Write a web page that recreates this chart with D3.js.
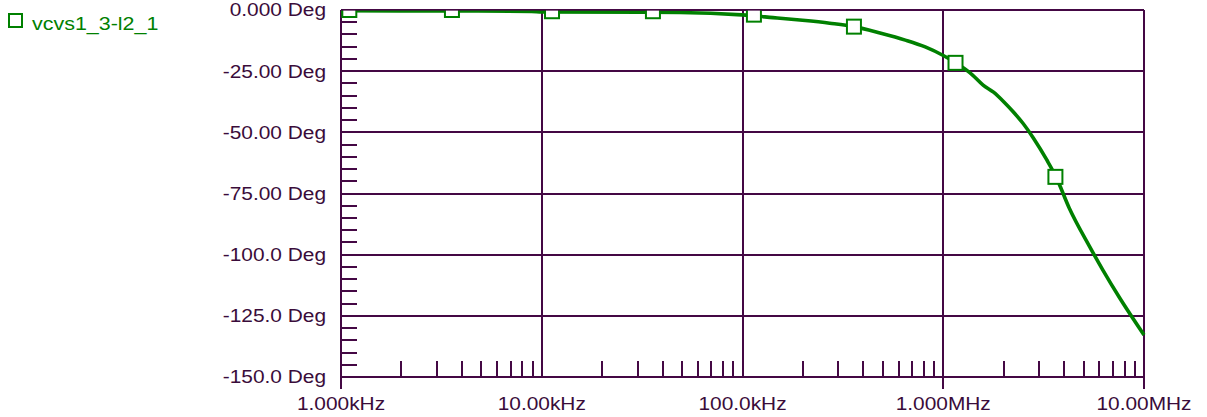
<!DOCTYPE html>
<html>
<head>
<meta charset="utf-8">
<script src="https://cdn.jsdelivr.net/npm/d3@7"></script>
<style>
  html, body { margin: 0; padding: 0; background: #ffffff; }
  svg { display: block; }
  text { font-family: "Liberation Sans", Arial, sans-serif; }
</style>
</head>
<body>
<svg id="chart" width="1207" height="417"></svg>
<script>
// Phase response of vcvs1_3-l2_1 (frequency in Hz, phase in degrees)
const seriesName = "vcvs1_3-l2_1";
const freqHz = [1000, 3540, 8900, 10000, 48800, 99300, 142000, 193000, 272000, 360000,
  484000, 647000, 813000, 1000000, 1160000, 1400000, 1580000, 1780000, 2000000, 2230000,
  2500000, 2810000, 3280000, 3640000, 4240000, 5360000, 6240000, 7570000, 10000000];
const phaseDeg = [-0.33, -0.4, -0.6, -0.8, -1.0, -2.0, -3.1, -4.1, -5.4, -6.8,
  -9.4, -12.3, -15.1, -18.6, -21.7, -26.6, -30.7, -33.6, -37.5, -41.6,
  -46.4, -52.3, -61.3, -68.1, -80.9, -96.7, -106.3, -117.7, -132.8];

// Marker symbols placed along the trace
const markerHz = [1100, 3570, 11250, 35800, 114000, 359000, 1151000, 3620000];
const markerDeg = [0.0, 0.0, -0.5, -0.5, -1.9, -6.8, -21.6, -68.2];

// Axis ticks and labels
const yTicks = [0, -25, -50, -75, -100, -125, -150];
const yTickLabels = ["0.000 Deg", "-25.00 Deg", "-50.00 Deg", "-75.00 Deg", "-100.0 Deg", "-125.0 Deg", "-150.0 Deg"];
const xTicks = [1e3, 1e4, 1e5, 1e6, 1e7];
const xTickLabels = ["1.000kHz", "10.00kHz", "100.0kHz", "1.000MHz", "10.00MHz"];

const axisColor = "#440844";
const textColor = "#3a0c3a";
const traceColor = "#008000";
const stretch = 1.16;

const plotLeft = 341, plotRight = 1144, plotTop = 10, plotBottom = 377;

const svg = d3.select("#chart");
const x = d3.scaleLog().domain([1e3, 1e7]).range([plotLeft, plotRight]);
const y = d3.scaleLinear().domain([-150, 0]).range([plotBottom, plotTop]);
// pixel-snapped positions for crisp 2px rules
const xs = d => Math.round(x(d));
const ys = d => Math.round(y(d));

// minor tick values
const yMinor = d3.range(-150, 0.01, 5).filter(v => v % 25 !== 0);
const xMinor = [];
for (let d = 1e3; d < 1e7; d *= 10) for (let k = 2; k <= 9; k++) xMinor.push(d * k);

const grid = svg.append("g");

// horizontal grid lines at the labelled phases
grid.selectAll(".hg").data(yTicks).join("line")
  .attr("x1", plotLeft).attr("x2", plotRight)
  .attr("y1", ys).attr("y2", ys)
  .attr("stroke", axisColor).attr("stroke-width", 2);

// vertical grid lines at each decade
grid.selectAll(".vg").data(xTicks).join("line")
  .attr("x1", xs).attr("x2", xs)
  .attr("y1", plotTop).attr("y2", (d, i) => (i === 0 || i >= 3) ? 389 : plotBottom)
  .attr("stroke", axisColor).attr("stroke-width", 2);

// minor ticks on the phase axis
grid.selectAll(".ym").data(yMinor).join("line")
  .attr("x1", plotLeft).attr("x2", plotLeft + 16)
  .attr("y1", ys).attr("y2", ys)
  .attr("stroke", axisColor).attr("stroke-width", 2);

// minor ticks on the frequency axis
grid.selectAll(".xm").data(xMinor).join("line")
  .attr("x1", xs).attr("x2", xs)
  .attr("y1", plotBottom).attr("y2", plotBottom - 16)
  .attr("stroke", axisColor).attr("stroke-width", 2);

// y labels
svg.append("g").selectAll("text").data(yTicks).join("text")
  .attr("transform", d => `translate(326,${y(d)}) scale(${stretch},1)`)
  .attr("dy", "0.36em")
  .attr("text-anchor", "end")
  .attr("font-size", 18)
  .attr("fill", textColor)
  .text((d, i) => yTickLabels[i]);

// x labels
svg.append("g").selectAll("text").data(xTicks).join("text")
  .attr("transform", d => `translate(${x(d)},410) scale(${stretch},1)`)
  .attr("text-anchor", "middle")
  .attr("font-size", 18)
  .attr("fill", textColor)
  .text((d, i) => xTickLabels[i]);

// plot area clip
svg.append("clipPath").attr("id", "plotClip")
  .append("rect").attr("x", plotLeft).attr("y", plotTop)
  .attr("width", plotRight - plotLeft + 2).attr("height", plotBottom - plotTop);

const plot = svg.append("g").attr("clip-path", "url(#plotClip)");
const pts = freqHz.map((f, i) => [f, phaseDeg[i]]);
const line = d3.line().x(d => x(d[0])).y(d => y(d[1])).curve(d3.curveMonotoneX);

plot.append("path").datum(pts)
  .attr("d", line)
  .attr("fill", "none")
  .attr("stroke", traceColor)
  .attr("stroke-width", 3.6)
  .attr("stroke-linejoin", "round");

plot.selectAll(".mk").data(markerHz).join("rect")
  .attr("x", d => x(d) - 7)
  .attr("y", (d, i) => y(markerDeg[i]) - 7)
  .attr("width", 14).attr("height", 14)
  .attr("fill", "#ffffff")
  .attr("stroke", traceColor)
  .attr("stroke-width", 2);

// frame top edge drawn over the trace edge
svg.append("line").attr("x1", plotLeft).attr("x2", plotRight).attr("y1", plotTop).attr("y2", plotTop)
  .attr("stroke", axisColor).attr("stroke-width", 1.5).attr("opacity", 0.85);

// legend
const lg = svg.append("g");
lg.append("rect").attr("x", 9).attr("y", 14).attr("width", 13).attr("height", 13)
  .attr("fill", "none").attr("stroke", traceColor).attr("stroke-width", 2);
lg.append("text")
  .attr("transform", `translate(32,29.5) scale(${stretch},1)`)
  .attr("font-size", 18.5)
  .attr("fill", traceColor)
  .text(seriesName);
</script>
</body>
</html>
